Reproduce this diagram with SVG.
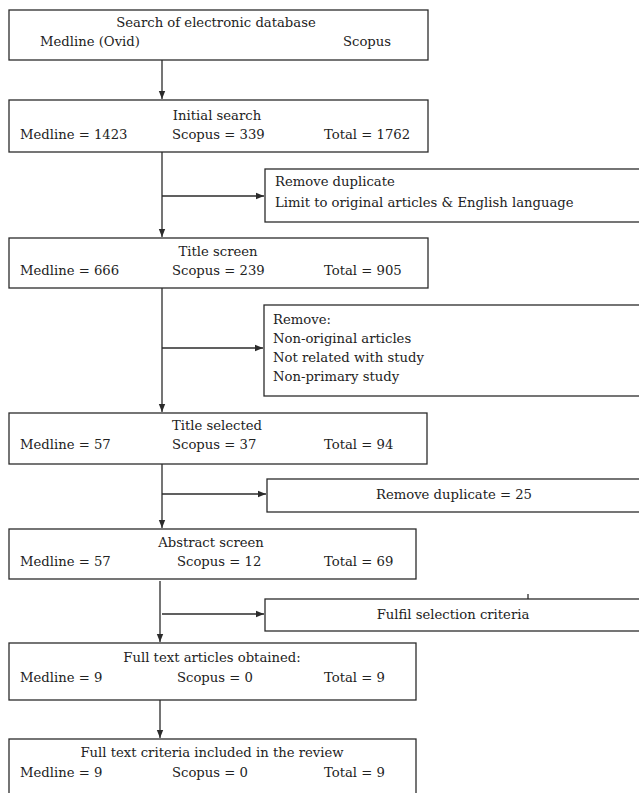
<svg xmlns="http://www.w3.org/2000/svg" width="639" height="793" viewBox="0 0 639 793">
<style>
.box{fill:#fff;stroke:#2b2b2b;stroke-width:1.3}
.ln{fill:none;stroke:#2b2b2b;stroke-width:1.3}
text{font-family:"DejaVu Serif","Liberation Serif",serif;font-size:13.2px;fill:#222}
.c{text-anchor:middle}
</style>
<defs>
<marker id="ah" markerUnits="userSpaceOnUse" markerWidth="9" markerHeight="8" refX="8" refY="4" orient="auto">
<path d="M0,0.8 L8,4 L0,7.2 Z" fill="#2b2b2b"/>
</marker>
</defs>
<rect width="639" height="793" fill="#fff"/>
<g id="connectors">
<line class="ln" x1="162" y1="60" x2="162" y2="99" marker-end="url(#ah)"/>
<line class="ln" x1="162" y1="152" x2="162" y2="237" marker-end="url(#ah)"/>
<line class="ln" x1="162" y1="196" x2="264" y2="196" marker-end="url(#ah)"/>
<line class="ln" x1="162" y1="288" x2="162" y2="412" marker-end="url(#ah)"/>
<line class="ln" x1="162" y1="348" x2="263" y2="348" marker-end="url(#ah)"/>
<line class="ln" x1="162" y1="464" x2="162" y2="528" marker-end="url(#ah)"/>
<line class="ln" x1="162" y1="494" x2="266" y2="494" marker-end="url(#ah)"/>
<line class="ln" x1="160" y1="581" x2="160" y2="642" marker-end="url(#ah)"/>
<line class="ln" x1="162" y1="614" x2="264" y2="614" marker-end="url(#ah)"/>
<line class="ln" x1="160" y1="700" x2="160" y2="738" marker-end="url(#ah)"/>
<line class="ln" x1="528" y1="594" x2="528" y2="599"/>
</g>
<g id="n1">
<rect class="box" x="9" y="10" width="419" height="50"/>
<text class="c" x="216" y="27">Search of electronic database</text>
<text x="40" y="46">Medline (Ovid)</text>
<text x="343" y="46">Scopus</text>
</g>
<g id="n2">
<rect class="box" x="9" y="100" width="419" height="52"/>
<text class="c" x="217" y="120">Initial search</text>
<text x="20" y="139">Medline = 1423</text>
<text x="172" y="139">Scopus = 339</text>
<text x="324" y="139">Total = 1762</text>
</g>
<g id="s1">
<rect class="box" x="265" y="169" width="380" height="53"/>
<text x="275" y="186">Remove duplicate</text>
<text x="275" y="207">Limit to original articles &amp; English language</text>
</g>
<g id="n3">
<rect class="box" x="9" y="238" width="419" height="50"/>
<text class="c" x="218" y="256">Title screen</text>
<text x="20" y="275">Medline = 666</text>
<text x="172" y="275">Scopus = 239</text>
<text x="324" y="275">Total = 905</text>
</g>
<g id="s2">
<rect class="box" x="264" y="305" width="381" height="91"/>
<text x="273" y="324">Remove:</text>
<text x="273" y="343">Non-original articles</text>
<text x="273" y="362">Not related with study</text>
<text x="273" y="381">Non-primary study</text>
</g>
<g id="n4">
<rect class="box" x="9" y="413" width="418" height="51"/>
<text class="c" x="217" y="430">Title selected</text>
<text x="20" y="449">Medline = 57</text>
<text x="172" y="449">Scopus = 37</text>
<text x="324" y="449">Total = 94</text>
</g>
<g id="s3">
<rect class="box" x="267" y="479" width="378" height="33"/>
<text class="c" x="454" y="499">Remove duplicate = 25</text>
</g>
<g id="n5">
<rect class="box" x="9" y="529" width="407" height="50"/>
<text class="c" x="211" y="547">Abstract screen</text>
<text x="20" y="566">Medline = 57</text>
<text x="177" y="566">Scopus = 12</text>
<text x="324" y="566">Total = 69</text>
</g>
<g id="s4">
<rect class="box" x="265" y="599" width="380" height="32"/>
<text class="c" x="453" y="619">Fulfil selection criteria</text>
</g>
<g id="n6">
<rect class="box" x="9" y="643" width="407" height="57"/>
<text class="c" x="212" y="662">Full text articles obtained:</text>
<text x="20" y="682">Medline = 9</text>
<text x="177" y="682">Scopus = 0</text>
<text x="324" y="682">Total = 9</text>
</g>
<g id="n7">
<rect class="box" x="9" y="739" width="407" height="70"/>
<text class="c" x="212" y="757">Full text criteria included in the review</text>
<text x="20" y="777">Medline = 9</text>
<text x="172" y="777">Scopus = 0</text>
<text x="324" y="777">Total = 9</text>
</g>
</svg>
